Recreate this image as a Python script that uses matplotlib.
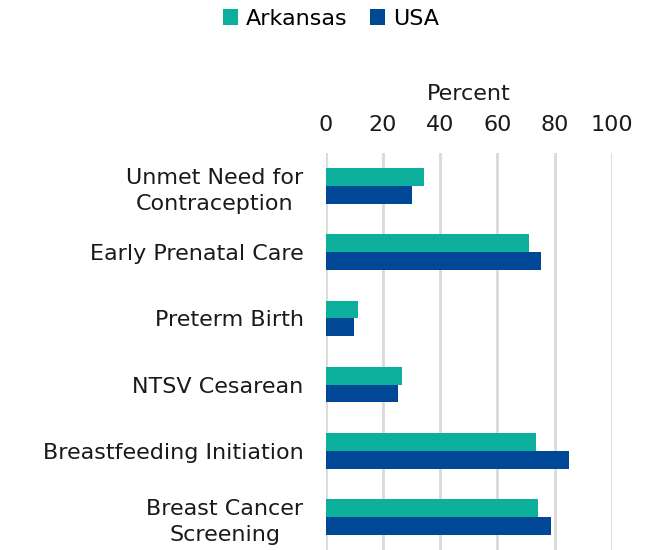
import matplotlib
matplotlib.use("Agg")
import matplotlib.pyplot as plt
import numpy as np

categories = ["Unmet Need for\nContraception", "Early Prenatal Care", "Preterm Birth",
              "NTSV Cesarean", "Breastfeeding Initiation", "Breast Cancer\nScreening"]
arkansas = [34.5, 71.0, 11.4, 26.8, 73.7, 74.4]
usa = [30.3, 75.2, 10.0, 25.4, 84.9, 78.6]
xticks = [0, 20, 40, 60, 80, 100]

ARK_COLOR = "#0BAF9C"
USA_COLOR = "#004795"
TEXT = "#1a1a1a"
FS = 16

plt.rcParams["font.family"] = ["DejaVu Sans"]

fig = plt.figure(figsize=(6.49, 5.5), dpi=100)
ax = fig.add_axes([0.502, 0.0, 0.4405, 0.7218])

y = np.arange(len(categories))
h = 0.27
ax.barh(y - h / 2, arkansas, height=h, color=ARK_COLOR, label="Arkansas", zorder=3)
ax.barh(y + h / 2, usa, height=h, color=USA_COLOR, label="USA", zorder=3)

ax.set_xlim(0, 100)
ax.set_ylim(len(categories) - 0.5, -0.5)
ax.set_yticks(y)
ax.set_yticklabels(categories, fontsize=FS, color=TEXT, multialignment="center",
                   linespacing=1.4)
ax.set_xticks(xticks)
ax.set_xticklabels([str(t) for t in xticks], fontsize=FS, color=TEXT)
ax.xaxis.tick_top()
ax.xaxis.set_label_position("top")
ax.set_xlabel("Percent", fontsize=FS, color=TEXT, labelpad=11)
ax.tick_params(length=0)
ax.tick_params(axis="x", pad=13)
ax.tick_params(axis="y", pad=16)
ax.grid(axis="x", color="#d9d9d9", linewidth=2, zorder=0)
for s in ax.spines.values():
    s.set_visible(False)

fig.legend(loc="upper center", bbox_to_anchor=(0.51, 1.02), ncol=2, frameon=False,
           fontsize=FS, handlelength=0.7, handleheight=0.7, handletextpad=0.35,
           columnspacing=1.0)

fig.savefig("out.png", dpi=100)
